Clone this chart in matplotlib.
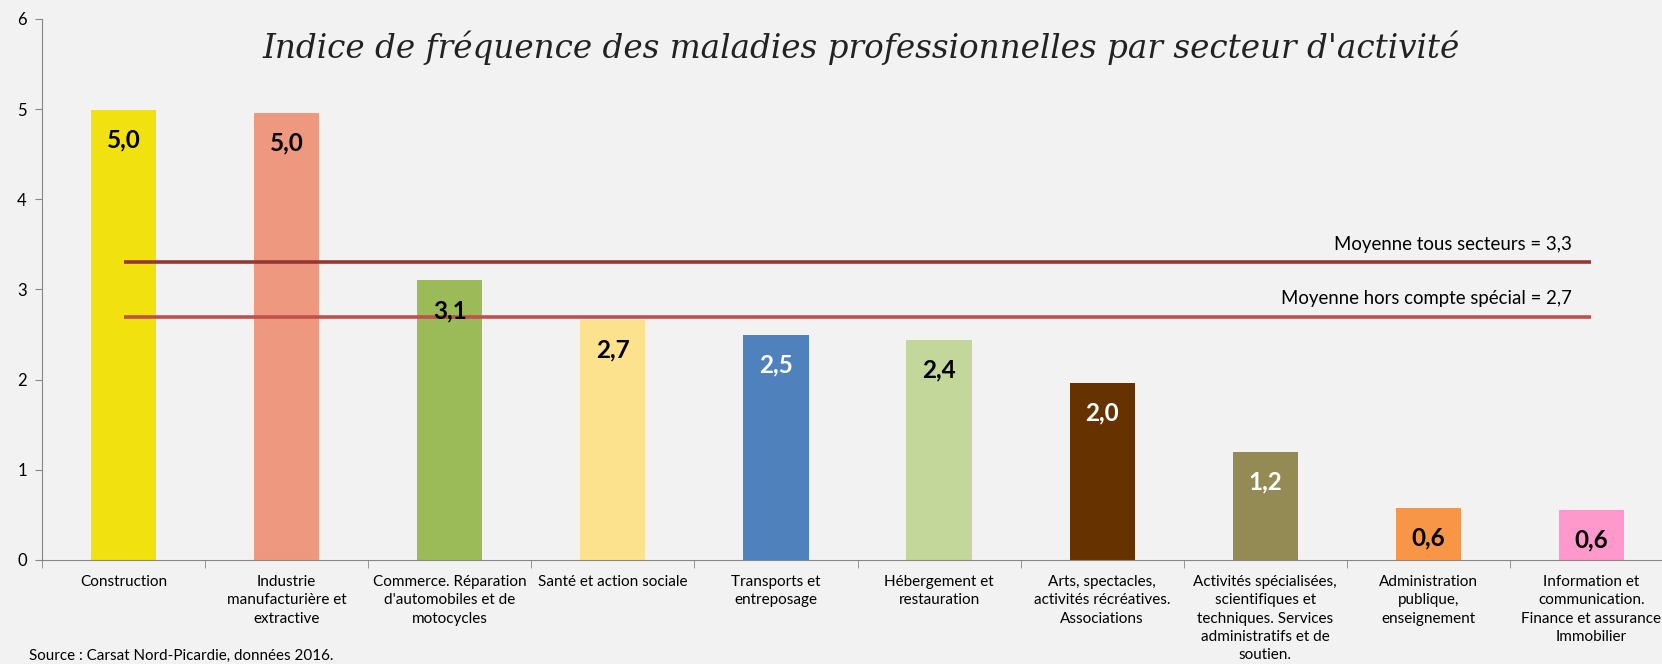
import numpy as np
import matplotlib.pyplot as plt

secteurs = [
    "Construction",
    "Industrie\nmanufacturière et\nextractive",
    "Commerce. Réparation\nd'automobiles et de\nmotocycles",
    "Santé et action sociale",
    "Transports et\nentreposage",
    "Hébergement et\nrestauration",
    "Arts, spectacles,\nactivités récréatives.\nAssociations",
    "Activités spécialisées,\nscientifiques et\ntechniques. Services\nadministratifs et de\nsoutien.",
    "Administration\npublique,\nenseignement",
    "Information et\ncommunication.\nFinance et assurance\nImmobilier",
]
indices = [4.99, 4.96, 3.10, 2.66, 2.50, 2.44, 1.96, 1.20, 0.58, 0.56]
couleurs = ["#F1E10E", "#EF9880", "#9BBB59", "#FDE28E", "#4F81BD",
            "#C4D79B", "#663300", "#948A54", "#F79646", "#FF99CC"]
couleurs_texte = ["black", "black", "black", "black", "white",
                  "black", "white", "white", "black", "black"]

moy_tous = 3.3
moy_hors = 2.7

plt.rcParams['font.family'] = ['Lato', 'DejaVu Sans']

W, H = 1662, 664
fig = plt.figure(figsize=(W / 100, H / 100), dpi=100)
fig.patch.set_facecolor('#F2F2F2')

# axes runs a bit past the right edge, like the original
ax = fig.add_axes([42 / W, 104 / H, 1631 / W, 541 / H])
ax.set_facecolor('#F2F2F2')

x = np.arange(len(secteurs))
ax.bar(x, indices, width=0.40, color=couleurs, zorder=2)

for xi, v, c in zip(x, indices, couleurs_texte):
    ax.annotate(f"{v:.1f}".replace('.', ','), (xi, v), xytext=(0, -30),
                textcoords='offset pixels', ha='center', va='center',
                fontsize=17.5, fontweight='bold', color=c, zorder=4)

ax.hlines(moy_tous, 0, 9, color='#953735', lw=2.6, zorder=3)
ax.hlines(moy_hors, 0, 9, color='#C0504D', lw=2.6, zorder=3)
ax.annotate("Moyenne tous secteurs = 3,3", (8.88, moy_tous), xytext=(0, 18),
            textcoords='offset pixels', ha='right', va='center', fontsize=13.4)
ax.annotate("Moyenne hors compte spécial = 2,7", (8.88, moy_hors), xytext=(0, 18),
            textcoords='offset pixels', ha='right', va='center', fontsize=13.4)

ax.set_xlim(-0.5, 9.5)
ax.set_ylim(0, 6)
ax.set_yticks(range(7))
ax.tick_params(axis='y', length=5, color='#868686', labelsize=12, pad=6)

ax.set_xticks(x)
ax.set_xticklabels(secteurs, fontsize=11, linespacing=1.38)
ax.tick_params(axis='x', length=0, pad=11)
ax.set_xticks(np.arange(-0.5, 10, 1), minor=True)
ax.tick_params(axis='x', which='minor', length=6, color='#868686')

for s in ['top', 'right']:
    ax.spines[s].set_visible(False)
for s in ['left', 'bottom']:
    ax.spines[s].set_color('#868686')

fig.text(861 / W, 1 - 48 / H,
         "Indice de fréquence des maladies professionnelles par secteur d'activité",
         ha='center', va='center', fontsize=23.5, style='italic',
         family='DejaVu Serif', color='#222222')
fig.text(29 / W, 1 - 656 / H, "Source : Carsat Nord-Picardie, données 2016.",
         ha='left', va='center', fontsize=10.9)

fig.savefig('out.png', dpi=100, facecolor=fig.get_facecolor())
